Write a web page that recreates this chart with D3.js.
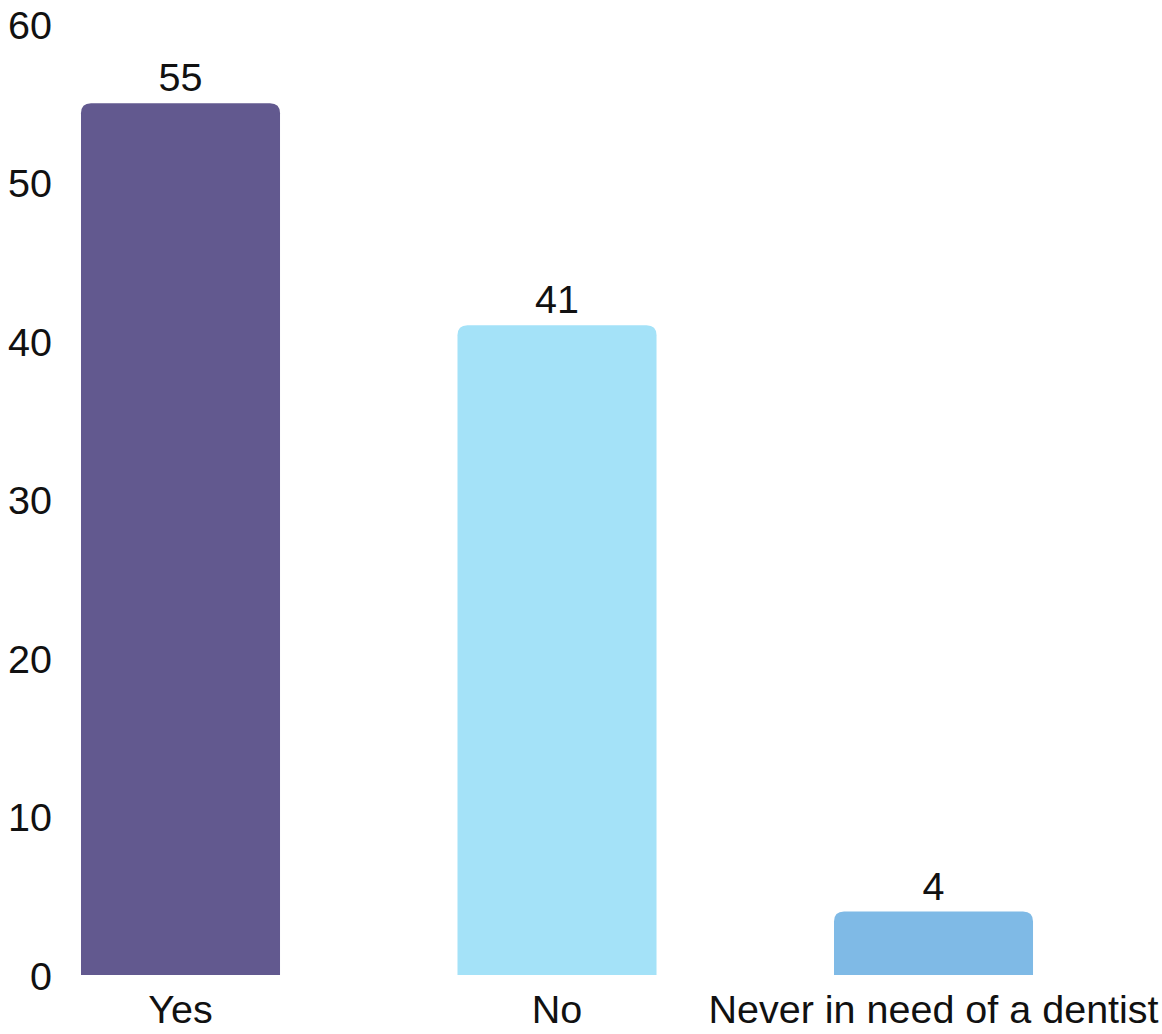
<!DOCTYPE html>
<html><head><meta charset="utf-8">
<script src="https://cdn.jsdelivr.net/npm/d3@7"></script>
<style>
html,body{margin:0;padding:0;background:#fff;}
text{font-family:"Liberation Sans",Arial,sans-serif;fill:#111;}
</style></head>
<body>
<svg id="chart" width="1162" height="1034"></svg>
<script>
const categories = ["Yes", "No", "Never in need of a dentist"];
const values = [55, 41, 4];
const colors = ["#62598f", "#a4e2f8", "#7fbae6"];
const yTicks = [0, 10, 20, 30, 40, 50, 60];

const svg = d3.select("#chart");
const fontSize = 39.5;

const x = d3.scaleBand().domain(categories).range([-7.74, 1121.76]).paddingInner(0.4714).paddingOuter(0.2357);
const y = d3.scaleLinear().domain([0, 60]).range([975, 24]);

const bw = x.bandwidth();
const r = 10;

function topRounded(x0, y0, w, h, rad) {
  rad = Math.min(rad, h, w / 2);
  return `M${x0},${y0 + h}V${y0 + rad}Q${x0},${y0} ${x0 + rad},${y0}H${x0 + w - rad}Q${x0 + w},${y0} ${x0 + w},${y0 + rad}V${y0 + h}Z`;
}

const g = svg.append("g");
g.selectAll("path.bar").data(categories).join("path")
  .attr("class", "bar")
  .attr("d", (c, i) => topRounded(x(c), y(values[i]), bw, y(0) - y(values[i]), r))
  .attr("fill", (c, i) => colors[i]);

// value labels
g.selectAll("text.val").data(categories).join("text")
  .attr("class", "val")
  .attr("x", c => x(c) + bw / 2)
  .attr("y", (c, i) => y(values[i]) - 12)
  .attr("text-anchor", "middle")
  .attr("font-size", fontSize)
  .text((c, i) => values[i]);

// y axis
const yAxis = d3.axisLeft(y).tickValues(yTicks).tickSize(0).tickPadding(0);
const ya = svg.append("g").attr("transform", "translate(52,0)").call(yAxis);
ya.select(".domain").remove();
ya.selectAll("text").attr("font-size", fontSize).attr("font-family", "Liberation Sans, Arial, sans-serif").attr("fill", "#111").attr("dy", "0.36em");

// x axis
const xAxis = d3.axisBottom(x).tickSize(0).tickPadding(0);
const xa = svg.append("g").attr("transform", "translate(0,975)").call(xAxis);
xa.select(".domain").remove();
xa.selectAll("text").attr("font-size", fontSize).attr("font-family", "Liberation Sans, Arial, sans-serif").attr("fill", "#111").attr("dy", null).attr("y", 48);
</script>
</body></html>
